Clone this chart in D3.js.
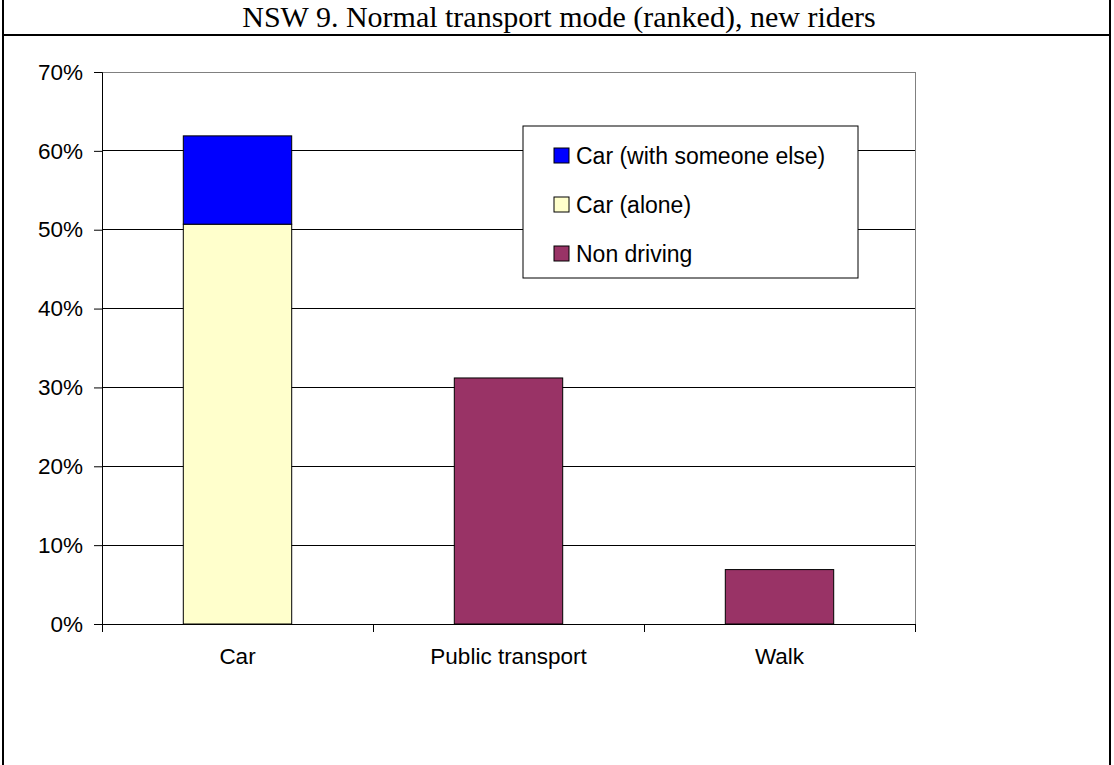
<!DOCTYPE html>
<html>
<head>
<meta charset="utf-8">
<script src="https://cdn.jsdelivr.net/npm/d3@7"></script>
<style>
  html, body { margin: 0; padding: 0; background: #fff; }
  svg { display: block; }
</style>
</head>
<body>
<svg id="chart" width="1114" height="765"></svg>
<script>
// ---- data ----
const titleText = "NSW 9. Normal transport mode (ranked), new riders";
const categories = ["Car", "Public transport", "Walk"];
const seriesNames = ["Non driving", "Car (alone)", "Car (with someone else)"];
const nonDriving = [0, 31.2, 6.9];
const carAlone = [50.7, 0, 0];
const carWithSomeoneElse = [11.2, 0, 0];
const yTicks = [0, 10, 20, 30, 40, 50, 60, 70];
const legendOrder = ["Car (with someone else)", "Car (alone)", "Non driving"];

const colors = {
  "Car (with someone else)": "#0000FF",
  "Car (alone)": "#FFFFCC",
  "Non driving": "#993366"
};

const rows = categories.map((c, i) => ({
  category: c,
  "Non driving": nonDriving[i],
  "Car (alone)": carAlone[i],
  "Car (with someone else)": carWithSomeoneElse[i]
}));

const svg = d3.select("#chart");
const W = 1114, H = 765;
const sansFont = "'Liberation Sans', Arial, sans-serif";

// outer frame
const frame = svg.append("g");
frame.append("line").attr("x1", 3).attr("x2", 3).attr("y1", 0).attr("y2", H)
  .attr("stroke", "#000").attr("stroke-width", 2);
frame.append("line").attr("x1", 1110).attr("x2", 1110).attr("y1", 0).attr("y2", H)
  .attr("stroke", "#000").attr("stroke-width", 2);
frame.append("line").attr("x1", 3).attr("x2", 1110).attr("y1", 35).attr("y2", 35)
  .attr("stroke", "#000").attr("stroke-width", 2);

svg.append("text")
  .attr("x", 559).attr("y", 27)
  .attr("text-anchor", "middle")
  .attr("font-family", "'Liberation Serif', 'Times New Roman', serif")
  .attr("font-size", 30)
  .attr("fill", "#000")
  .text(titleText);

// plot area
const pLeft = 102, pRight = 915, pTop = 72, pBottom = 624;
const x = d3.scaleBand().domain(categories).range([pLeft, pRight]).paddingInner(0).paddingOuter(0);
const y = d3.scaleLinear().domain([0, 70]).range([pBottom, pTop]);

// gridlines
svg.append("g")
  .selectAll("line")
  .data(yTicks.filter(t => t > 0 && t < 70))
  .join("line")
  .attr("x1", pLeft).attr("x2", pRight)
  .attr("y1", d => y(d)).attr("y2", d => y(d))
  .attr("stroke", "#000").attr("stroke-width", 1).attr("shape-rendering", "crispEdges");

// plot frame top/right (gray)
svg.append("line").attr("x1", pLeft).attr("x2", pRight).attr("y1", y(70)).attr("y2", y(70))
  .attr("stroke", "#808080").attr("shape-rendering", "crispEdges");
svg.append("line").attr("x1", pRight).attr("x2", pRight).attr("y1", pTop).attr("y2", pBottom)
  .attr("stroke", "#808080").attr("shape-rendering", "crispEdges");

// bars
const stack = d3.stack().keys(seriesNames);
const stacked = stack(rows);
const barW = x.bandwidth() * 0.4;
svg.append("g")
  .selectAll("g")
  .data(stacked)
  .join("g")
  .attr("fill", d => colors[d.key])
  .selectAll("rect")
  .data(d => d.filter(p => p[1] - p[0] > 0))
  .join("rect")
  .attr("x", d => x(d.data.category) + (x.bandwidth() - barW) / 2)
  .attr("width", barW)
  .attr("y", d => y(d[1]))
  .attr("height", d => y(d[0]) - y(d[1]))
  .attr("stroke", "#000").attr("stroke-width", 1);

// y axis
const yAxis = svg.append("g")
  .attr("transform", `translate(${pLeft},0)`)
  .call(d3.axisLeft(y).tickValues(yTicks).tickFormat(d => d + "%").tickSize(8).tickPadding(11));
yAxis.select(".domain").attr("stroke", "#000");
yAxis.selectAll(".tick line").attr("stroke", "#000");
yAxis.selectAll("text")
  .attr("font-family", sansFont)
  .attr("font-size", 22.5).attr("fill", "#000");

// x axis
const xAxis = svg.append("g")
  .attr("transform", `translate(0,${pBottom})`)
  .call(d3.axisBottom(x).tickSize(0).tickPadding(24));
xAxis.select(".domain").attr("stroke", "#000");
xAxis.selectAll("text")
  .attr("font-family", sansFont)
  .attr("font-size", 22.5).attr("fill", "#000");
// category boundary ticks
const boundaries = categories.map(c => x(c)).concat([pRight]);
svg.append("g")
  .selectAll("line")
  .data(boundaries)
  .join("line")
  .attr("x1", d => d).attr("x2", d => d)
  .attr("y1", pBottom).attr("y2", pBottom + 8)
  .attr("stroke", "#000").attr("shape-rendering", "crispEdges");

// legend
const lg = svg.append("g").attr("transform", "translate(523,126)");
lg.append("rect").attr("x", 0).attr("y", 0).attr("width", 335).attr("height", 152)
  .attr("fill", "#fff").attr("stroke", "#000").attr("stroke-width", 1);
const item = lg.selectAll("g.item")
  .data(legendOrder)
  .join("g")
  .attr("class", "item")
  .attr("transform", (d, i) => `translate(31,${29 + i * 49})`);
item.append("rect")
  .attr("x", 0).attr("y", -7).attr("width", 15).attr("height", 15)
  .attr("fill", d => colors[d]).attr("stroke", "#000");
item.append("text")
  .attr("x", 22).attr("y", 1).attr("dy", "0.35em")
  .attr("font-family", sansFont)
  .attr("font-size", 23).attr("fill", "#000")
  .text(d => d);
</script>
</body>
</html>
